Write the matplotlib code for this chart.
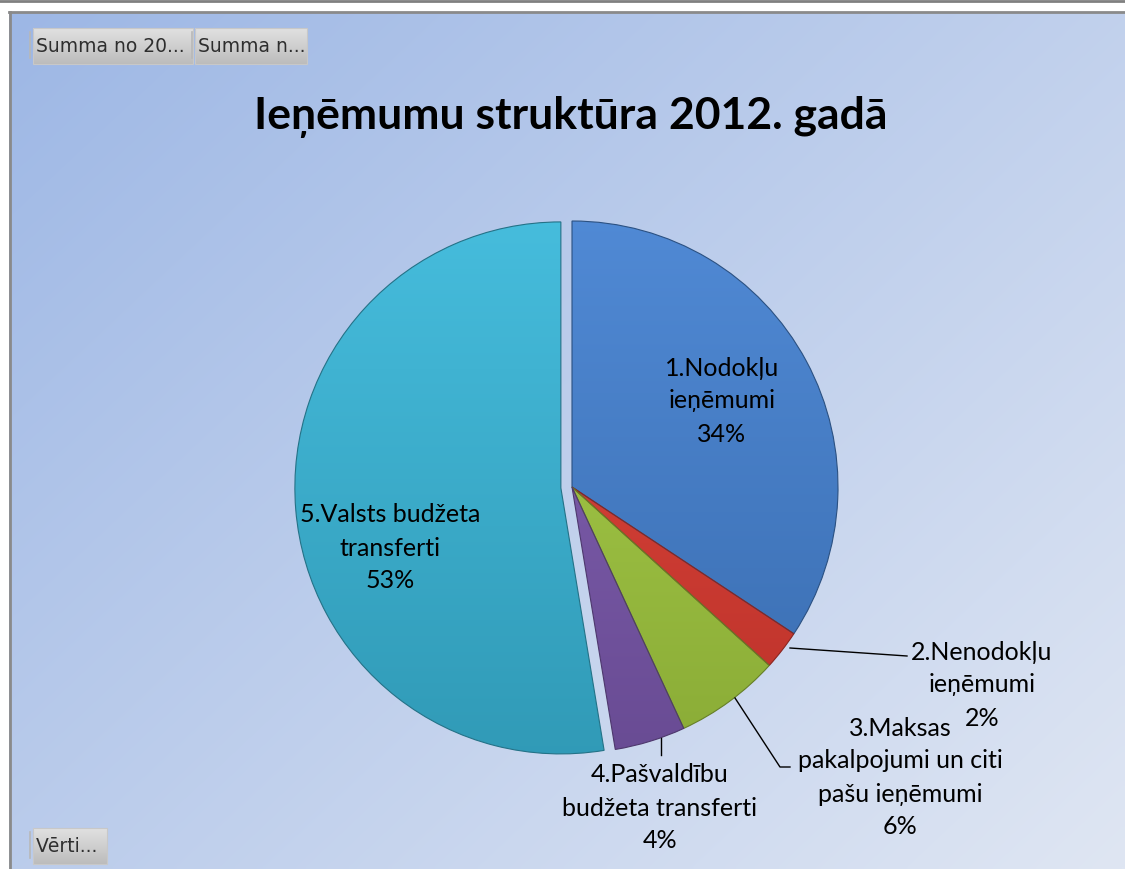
import numpy as np
import matplotlib.pyplot as plt
import matplotlib.colors as mcolors
from matplotlib.patches import Rectangle

# data
categories = ["1.Nodokļu\nieņēmumi",
              "2.Nenodokļu\nieņēmumi",
              "3.Maksas\npakalpojumi un citi\npašu ieņēmumi",
              "4.Pašvaldību\nbudžeta transferti",
              "5.Valsts budžeta\ntransferti"]
values = [34.3, 2.4, 6.4, 4.3, 52.6]
colors = ["#4582d2", "#e03c32", "#a5cd41", "#7d5ab0", "#3ab8da"]
explode = [0, 0, 0, 0, 0.042]
title = "Ieņēmumu struktūra 2012. gadā"
buttons = ["Summa no 20...", "Summa n...", "Vērti..."]

W, H = 1125, 869
CX, CY, R = 572, 487, 266   # pie centre / radius in pixels (from top)


def py(y):
    # pixel-from-top -> axes y
    return H - y


fig = plt.figure(figsize=(W / 100, H / 100), dpi=100)
ax = fig.add_axes([0, 0, 1, 1])
fig.patch.set_facecolor("white")

# chart area background, diagonal gradient (darker top-left)
c0 = np.array([157, 183, 229]) / 255
c1 = np.array([223, 230, 243]) / 255
gx, gy = np.meshgrid(np.linspace(0, 1, 200), np.linspace(0, 1, 200))
t = (gx * 0.55 + gy * 0.45)
bg = c0 * (1 - t[..., None]) + c1 * t[..., None]
ax.imshow(bg, extent=(9, W, 0, py(12)), origin="upper", aspect="auto",
          interpolation="bilinear", zorder=0)
ax.plot([0, W], [py(0.5), py(0.5)], color="#808080", lw=2, zorder=5)
ax.plot([9, W], [py(12), py(12)], color="#8a8a8a", lw=2, zorder=5)
ax.plot([9.5, 9.5], [0, py(12)], color="#8a8a8a", lw=2, zorder=5)

# pie
wedges, _ = ax.pie(values, colors=colors, startangle=90, counterclock=False,
                   radius=R, center=(CX, py(CY)), explode=[e * R for e in explode],
                   wedgeprops=dict(linewidth=0.8))
for w, c in zip(wedges, colors):
    base = np.array(mcolors.to_rgb(c))
    tt = np.linspace(0, 1, 256)[:, None]
    light = base + (1 - base) * 0.06
    dark = base * 0.84
    arr = (dark * (1 - tt) + light * tt).reshape(256, 1, 3)
    wx, wy = w.center
    im = ax.imshow(arr, extent=(wx - R, wx + R, wy - R, wy + R), origin="lower",
                   aspect="auto", interpolation="bilinear", zorder=2)
    im.set_clip_path(w)
    w.set_facecolor("none")
    w.set_edgecolor(tuple(base * 0.62))
    w.set_zorder(3)

# data labels
total = sum(values)
label_pos = [(722, 368), (982, 652), (900, 728), (660, 775), (390, 515)]
for cat, v, (lx, ly) in zip(categories, values, label_pos):
    lines = (cat + f"\n{v / total * 100:.0f}%").split("\n")
    for k, line in enumerate(lines):
        ax.text(lx, py(ly + k * 33), line, ha="center", va="center",
                fontsize=18, family="Lato", zorder=6)

# leader lines
ax.plot([790, 907], [py(648), py(656)], color="black", lw=1, zorder=6)
ax.plot([735, 780, 790], [py(698), py(767), py(767)], color="black", lw=1, zorder=6)
ax.plot([661, 661], [py(738), py(755)], color="black", lw=1, zorder=6)

# title
ax.text(571, py(117), title, ha="center", va="center", fontsize=32,
        fontweight="bold", family="Lato", zorder=6)

# field buttons
gray = np.linspace(0.74, 0.88, 64)[:, None]
btn_img = np.repeat(gray[..., None], 3, axis=2)
for txt, (x0, x1, y0, y1) in zip(buttons, [(33, 193, 28, 64), (195, 307, 28, 64),
                                           (33, 107, 828, 864)]):
    ax.imshow(btn_img, extent=(x0, x1, py(y1), py(y0)), origin="lower",
              aspect="auto", zorder=4)
    ax.add_patch(Rectangle((x0, py(y1)), x1 - x0, y1 - y0, fill=False,
                           edgecolor="#c8c8c8", lw=0.8, zorder=5))
    ax.plot([x0 - 3, x0 - 3], [py(y0 + 4), py(y1 - 6)], color="#b8b8b8", lw=1.2, zorder=5)
    ax.text(x0 + 3, py((y0 + y1) / 2 + 1), txt, ha="left", va="center",
            fontsize=13.5, color="#2e2e2e", family="DejaVu Sans", zorder=6)

ax.set_xlim(0, W)
ax.set_ylim(0, H)
ax.set_aspect("auto")
ax.axis("off")

fig.savefig("out.png", dpi=100)
